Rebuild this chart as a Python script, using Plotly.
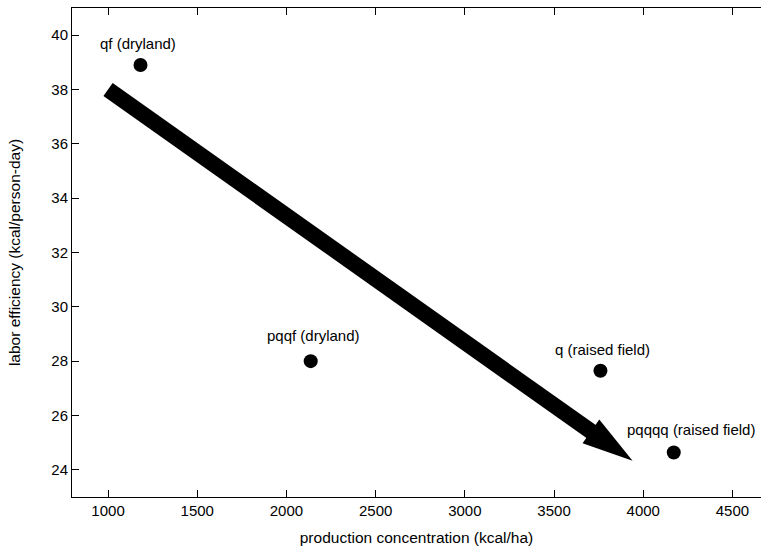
import plotly.graph_objects as go

# Farming systems: production concentration vs. labor efficiency
systems = ["qf (dryland)", "pqqf (dryland)", "q (raised field)", "pqqqq (raised field)"]
production_kcal_ha = [1182, 2136, 3760, 4171]
labor_kcal_per_day = [38.9, 28.0, 27.65, 24.64]

# Trend arrow (tail and tip, in data units)
arrow_x = [1000, 3940]
arrow_y = [38.0, 24.33]

x_ticks = [1000, 1500, 2000, 2500, 3000, 3500, 4000, 4500]
y_ticks = [24, 26, 28, 30, 32, 34, 36, 38, 40]

# Figure geometry
W, H = 761, 546
ML, MR, MT, MB = 72, 0, 8, 49
X_RANGE = [798, 4660]
Y_RANGE = [23, 41]

FONT = "Liberation Sans, Arial, Helvetica, sans-serif"

# pixel scale of the plot area, used to build the arrow head
sx = (W - ML - MR) / (X_RANGE[1] - X_RANGE[0])
sy = (H - MT - MB) / (Y_RANGE[1] - Y_RANGE[0])


def to_px(x, y):
    return (x - X_RANGE[0]) * sx, (Y_RANGE[1] - y) * sy


def to_data(px, py):
    return X_RANGE[0] + px / sx, Y_RANGE[1] - py / sy


shaft_width = 16
head_len = 51
head_half = 14.5

tx, ty = to_px(arrow_x[0], arrow_y[0])
hx, hy = to_px(arrow_x[1], arrow_y[1])
dx, dy = hx - tx, hy - ty
L = (dx * dx + dy * dy) ** 0.5
ux, uy = dx / L, dy / L
nx, ny = -uy, ux
bx, by = hx - ux * head_len, hy - uy * head_len
wing1 = to_data(bx + nx * head_half, by + ny * head_half)
wing2 = to_data(bx - nx * head_half, by - ny * head_half)
base = to_data(bx + ux * 2, by + uy * 2)

head_path = "M {:.3f},{:.4f} L {:.3f},{:.4f} L {:.3f},{:.4f} Z".format(
    wing1[0], wing1[1], arrow_x[1], arrow_y[1], wing2[0], wing2[1])

fig = go.Figure()

fig.add_trace(go.Scatter(
    x=production_kcal_ha, y=labor_kcal_per_day, mode="markers",
    marker=dict(color="black", size=14),
    showlegend=False, hoverinfo="skip",
))

fig.add_shape(type="line", xref="x", yref="y",
              x0=arrow_x[0], y0=arrow_y[0], x1=base[0], y1=base[1],
              line=dict(color="black", width=shaft_width))
fig.add_shape(type="path", xref="x", yref="y", path=head_path,
              fillcolor="black", line=dict(color="black", width=0))

# point labels, set just above each marker
label_dx = [-3, 3, 2, 17]
label_dy = [22, 26, 21, 23]
for name, x, y, ox, oy in zip(systems, production_kcal_ha, labor_kcal_per_day,
                              label_dx, label_dy):
    fig.add_annotation(x=x, y=y, text=name, showarrow=False,
                       xshift=ox, yshift=oy,
                       font=dict(family=FONT, size=15, color="black"))

axis_common = dict(
    showline=True, linecolor="black", linewidth=1,
    ticks="inside", ticklen=7, tickwidth=1, tickcolor="black",
    showgrid=False, zeroline=False,
    tickfont=dict(family=FONT, size=15, color="black"),
)

fig.update_xaxes(
    range=X_RANGE, tickvals=x_ticks, mirror="ticks",
    title=dict(text="production concentration (kcal/ha)", standoff=15,
               font=dict(family=FONT, size=15.5, color="black")),
    **axis_common,
)
fig.update_yaxes(
    range=Y_RANGE, tickvals=y_ticks, mirror=False,
    title=dict(text="labor efficiency (kcal/person-day)", standoff=26,
               font=dict(family=FONT, size=15.5, color="black")),
    **axis_common,
)

fig.update_layout(
    width=W, height=H,
    margin=dict(l=ML, r=MR, t=MT, b=MB, autoexpand=False),
    plot_bgcolor="white", paper_bgcolor="white",
    font=dict(family=FONT, size=15, color="black"),
)

fig.write_html("out.html")
